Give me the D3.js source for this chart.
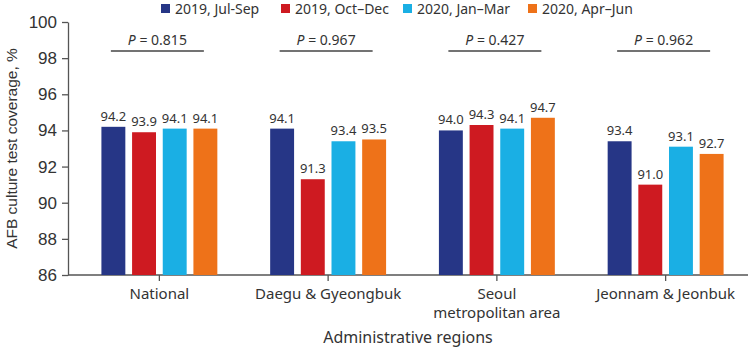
<!DOCTYPE html>
<html>
<head>
<meta charset="utf-8">
<script src="https://cdn.jsdelivr.net/npm/d3@7/dist/d3.min.js"></script>
<style>
  body { margin: 0; background: #fff; }
  svg { display: block; }
</style>
</head>
<body>
<div id="chart"></div>
<script>
const categories = ["National", "Daegu & Gyeongbuk", "Seoul metropolitan area", "Jeonnam & Jeonbuk"]
const categoryLines = [["National"], ["Daegu & Gyeongbuk"], ["Seoul", "metropolitan area"], ["Jeonnam & Jeonbuk"]]
const seriesNames = ["2019, Jul-Sep", "2019, Oct\u2013Dec", "2020, Jan\u2013Mar", "2020, Apr\u2013Jun"]
const julSep = [94.2, 94.1, 94.0, 93.4]
const octDec = [93.9, 91.3, 94.3, 91.0]
const janMar = [94.1, 93.4, 94.1, 93.1]
const aprJun = [94.1, 93.5, 94.7, 92.7]
const pValues = ["0.815", "0.967", "0.427", "0.962"]
const yTicks = [86, 88, 90, 92, 94, 96, 98, 100]

const COLORS = ["#263686", "#ce1a21", "#1aafe4", "#ee7219"]
const seriesValues = [julSep, octDec, janMar, aprJun]

const width = 748, height = 348
const plot = { left: 68, right: 748, top: 22, bottom: 275 }

const svg = d3.select("#chart").append("svg")
  .attr("width", width)
  .attr("height", height)

const x = d3.scaleBand()
  .domain(categories)
  .range([75, 750])
  .paddingInner(0.313)
  .paddingOuter(0.1565)

const xs = d3.scaleBand()
  .domain(seriesNames)
  .range([0, x.bandwidth()])
  .paddingInner(0.22)

const y = d3.scaleLinear()
  .domain([86, 100])
  .range([plot.bottom, plot.top])

// Y axis
const yAxis = svg.append("g")
  .attr("transform", `translate(${plot.left},0)`)
  .call(d3.axisLeft(y).tickValues(yTicks).tickSize(6).tickSizeOuter(0).tickPadding(5))
yAxis.select(".domain").attr("stroke", "#555").attr("stroke-width", 1.3)
yAxis.selectAll(".tick line").attr("stroke", "#555").attr("stroke-width", 1.3)
yAxis.selectAll(".tick text")
  .attr("fill", "#333").attr("font-size", 17)
  .attr("font-family", "Liberation Sans, Arial, sans-serif")

// X axis
const xAxis = svg.append("g")
  .attr("transform", `translate(0,${plot.bottom})`)
  .call(d3.axisBottom(x).tickSize(6).tickSizeOuter(0).tickFormat(""))
xAxis.select(".domain").remove()
xAxis.selectAll(".tick line").attr("stroke", "#555").attr("stroke-width", 1.3)
svg.append("line")
  .attr("x1", plot.left).attr("x2", plot.right)
  .attr("y1", plot.bottom).attr("y2", plot.bottom)
  .attr("stroke", "#555").attr("stroke-width", 1.3)

// Category labels
categories.forEach((c, i) => {
  const t = svg.append("text")
    .attr("x", x(c) + x.bandwidth() / 2)
    .attr("y", 299)
    .attr("text-anchor", "middle")
    .attr("fill", "#333").attr("font-size", 15)
    .attr("font-family", "Noto Sans, sans-serif")
  categoryLines[i].forEach((line, j) => {
    t.append("tspan")
      .attr("x", x(c) + x.bandwidth() / 2)
      .attr("dy", j === 0 ? 0 : 19)
      .text(line)
  })
})

// Bars and labels
const groups = svg.selectAll(".group")
  .data(categories)
  .enter().append("g")
  .attr("class", "group")
  .attr("transform", d => `translate(${x(d)},0)`)

seriesNames.forEach((s, si) => {
  groups.append("rect")
    .attr("x", xs(s))
    .attr("y", (d, ci) => y(seriesValues[si][ci]))
    .attr("width", xs.bandwidth())
    .attr("height", (d, ci) => plot.bottom - y(seriesValues[si][ci]))
    .attr("fill", COLORS[si])

  groups.append("text")
    .attr("x", xs(s) + xs.bandwidth() / 2)
    .attr("y", (d, ci) => y(seriesValues[si][ci]) - 6)
    .attr("text-anchor", "middle")
    .attr("fill", "#333").attr("font-size", 13)
    .attr("font-family", "Noto Sans, sans-serif")
    .text((d, ci) => seriesValues[si][ci].toFixed(1))
})

// P-value brackets
categories.forEach((c, i) => {
  const cx = x(c) + x.bandwidth() / 2 - 2
  svg.append("line")
    .attr("x1", cx - 46.5).attr("x2", cx + 46.5)
    .attr("y1", 51).attr("y2", 51)
    .attr("stroke", "#444").attr("stroke-width", 1.5)
  const t = svg.append("text")
    .attr("x", cx).attr("y", 45)
    .attr("text-anchor", "middle")
    .attr("fill", "#333").attr("font-size", 14)
    .attr("font-family", "Noto Sans, sans-serif")
  t.append("tspan").attr("font-style", "italic").text("P")
  t.append("tspan").text(" = " + pValues[i])
})

// Legend
const legendX = [161, 281, 403, 528]
seriesNames.forEach((s, i) => {
  const lg = svg.append("g").attr("transform", `translate(${legendX[i]},4)`)
  lg.append("rect").attr("width", 9).attr("height", 9).attr("fill", COLORS[i])
  lg.append("text")
    .attr("x", 14).attr("y", 9.5)
    .attr("fill", "#333").attr("font-size", 14)
    .attr("font-family", "Noto Sans, sans-serif")
    .text(s)
})

// Axis titles
svg.append("text")
  .attr("transform", `translate(17,${(plot.top + plot.bottom) / 2}) rotate(-90)`)
  .attr("text-anchor", "middle")
  .attr("fill", "#333").attr("font-size", 15.5)
  .attr("font-family", "Liberation Sans, Arial, sans-serif")
  .text("AFB culture test coverage, %")

svg.append("text")
  .attr("x", (plot.left + plot.right) / 2)
  .attr("y", 343)
  .attr("text-anchor", "middle")
  .attr("fill", "#333").attr("font-size", 16)
  .attr("font-family", "Noto Sans, sans-serif")
  .text("Administrative regions")
</script>
</body>
</html>
